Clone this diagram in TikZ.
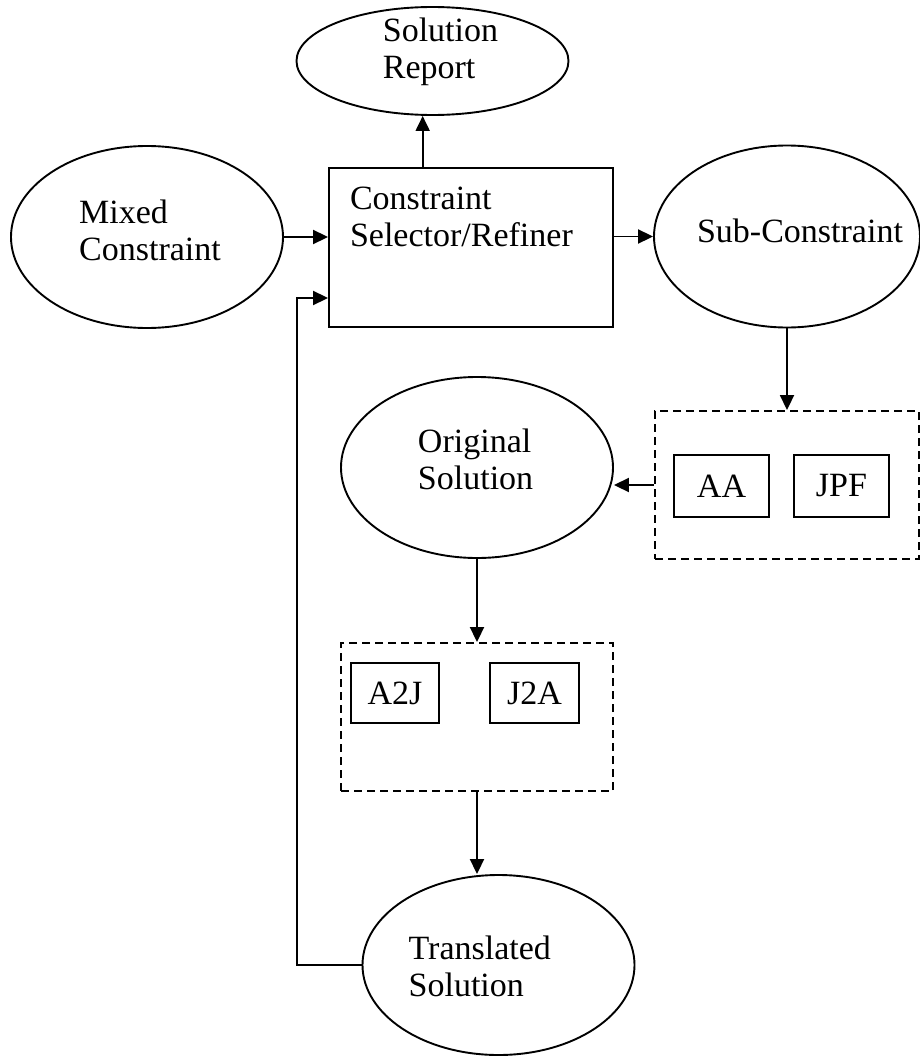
\documentclass[tikz,border=0pt]{standalone}
\usepackage{fontspec}
\setmainfont{Liberation Serif}
\usetikzlibrary{shapes.geometric, arrows.meta, calc}
\tikzset{
    oval/.style={ellipse, draw, line width=1.9pt, inner sep=0pt, minimum width=272pt, minimum height=182pt},
    proc/.style={rectangle, draw, line width=1.9pt, inner sep=0pt},
    group/.style={rectangle, draw, line width=1.9pt, dash pattern=on 8pt off 5pt, inner sep=0pt},
    lbl/.style={align=left, inner sep=0pt, font=\fontsize{34}{37}\selectfont},
    flow/.style={line width=1.9pt, -{Triangle[length=15pt, width=14pt]}},
}

\begin{document}
\begin{tikzpicture}[x=1pt, y=-1pt]
\useasboundingbox (0,0) rectangle (920,1057);
\node[oval, minimum height=108pt, label={[lbl, xshift=8pt, yshift=9.4pt]center:Solution\\Report}] (report) at (432.5,61) {};
\node[oval, label={[lbl, xshift=3pt, yshift=7pt]center:Mixed\\Constraint}] (mixed) at (147,237) {};
\node[proc, minimum width=284pt, minimum height=159pt, label={[lbl, xshift=-9.6pt, yshift=30.6pt]center:Constraint\\Selector/Refiner}] (select) at (471,247.5) {};
\node[oval, minimum width=266pt, label={[lbl, xshift=13pt, yshift=6pt]center:Sub-Constraint}] (sub) at (787,236.5) {};
\node[oval, minimum height=181pt, label={[lbl, xshift=-1.4pt, yshift=8.6pt]center:Original\\Solution}] (orig) at (477,467.5) {};

% solvers
\node[group, minimum width=264pt, minimum height=148pt] (decomp) at (787,485) {};
\node[proc, lbl, minimum width=95pt, minimum height=62pt] (aa) at (721.5,486) {AA};
\node[proc, lbl, minimum width=95pt, minimum height=62pt] (jpf) at (841.5,486) {JPF};

% translators
\node[group, minimum width=272pt, minimum height=148pt] (transl) at (477,717) {};
\node[proc, lbl, minimum width=88pt, minimum height=60pt] (a2j) at (395,693) {A2J};
\node[proc, lbl, minimum width=89pt, minimum height=60pt] (j2a) at (534.5,693) {J2A};

\node[oval, minimum height=180pt, label={[lbl, xshift=-18.7pt, yshift=-1pt]center:Translated\\Solution}] (trans) at (498.5,965) {};
\coordinate (back) at (297,298);

\draw[flow] (mixed.east) -- (mixed.east -| select.west);
\draw[flow] (select.east |- sub.west) -- (sub.west);
\draw[flow] ($(select.north west)!0.331!(select.north east)$) coordinate (up) -- (up |- report.south);
\draw[flow] (sub.south) -- (sub.south |- decomp.north);
\draw[flow] (decomp.west) -- (decomp.west -| orig.east);
\draw[flow] (orig.south) -- (transl.north);
\draw[flow] (transl.south) -- (transl.south |- trans.north);
\draw[flow] (trans.west) -| (back) -- (back -| select.west);
\end{tikzpicture}
\end{document}
